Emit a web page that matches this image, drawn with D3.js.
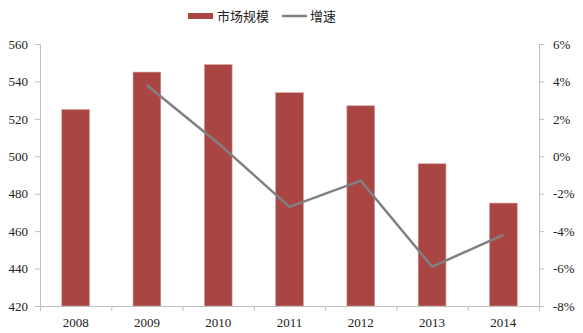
<!DOCTYPE html>
<html>
<head>
<meta charset="utf-8">
<script src="https://d3js.org/d3.v7.min.js"></script>
<style>
  body { margin: 0; background: #fff; }
</style>
</head>
<body>
<div id="vis"></div>
<script>
const years = ["2008", "2009", "2010", "2011", "2012", "2013", "2014"];
const marketSize = [525, 545, 549, 534, 527, 496, 475];
const growth = [null, 3.8, 0.7, -2.7, -1.3, -5.9, -4.2];
const leftTicks = [420, 440, 460, 480, 500, 520, 540, 560];
const rightTicks = [-8, -6, -4, -2, 0, 2, 4, 6];

const width = 583, height = 333;
const margin = { top: 44, right: 44, bottom: 27, left: 40 };
const axisColor = "#bfbfbf";
const serif = "'Liberation Serif', 'DejaVu Serif', serif";

const svg = d3.select("#vis").append("svg")
  .attr("width", width)
  .attr("height", height);

const x = d3.scaleBand()
  .domain(years)
  .range([margin.left, width - margin.right])
  .paddingInner(0.61)
  .paddingOuter(0.305);

const xAxisScale = d3.scaleLinear().domain([0, years.length]).range([margin.left, width - margin.right]);

const yLeft = d3.scaleLinear().domain([420, 560]).range([height - margin.bottom, margin.top]);
const yRight = d3.scaleLinear().domain([-8, 6]).range([height - margin.bottom, margin.top]);

// bars
svg.selectAll(".bar")
  .data(years.map((y, i) => ({ year: y, v: marketSize[i] })))
  .enter().append("rect")
  .attr("x", d => x(d.year))
  .attr("y", d => yLeft(d.v))
  .attr("width", x.bandwidth())
  .attr("height", d => yLeft(420) - yLeft(d.v))
  .attr("fill", "#a94644")
  .attr("stroke", "#d9a09e")
  .attr("stroke-width", 0.6);

// left axis
const leftAxis = svg.append("g")
  .attr("transform", `translate(${margin.left},0)`)
  .call(d3.axisLeft(yLeft).tickValues(leftTicks).tickSize(5).tickSizeOuter(0).tickPadding(7));

// right axis
const rightAxis = svg.append("g")
  .attr("transform", `translate(${width - margin.right},0)`)
  .call(d3.axisRight(yRight).tickValues(rightTicks).tickSize(5).tickSizeOuter(0).tickPadding(9)
    .tickFormat(d => d + "%"));

// bottom axis: ticks between categories
const bottomAxis = svg.append("g")
  .attr("transform", `translate(0,${height - margin.bottom})`)
  .call(d3.axisBottom(xAxisScale).tickValues(d3.range(0, years.length + 1)).tickSize(5).tickSizeOuter(0).tickFormat(""));

svg.append("g")
  .selectAll("text")
  .data(years)
  .enter().append("text")
  .attr("x", d => x(d) + x.bandwidth() / 2)
  .attr("y", height - margin.bottom + 21)
  .attr("text-anchor", "middle")
  .attr("font-family", serif)
  .attr("font-size", 13)
  .attr("fill", "#222")
  .text(d => d);

[leftAxis, rightAxis, bottomAxis].forEach(g => {
  g.selectAll("path, line").attr("stroke", axisColor);
  g.selectAll("text").attr("font-family", serif).attr("font-size", 13).attr("fill", "#222");
});

// growth line
const line = d3.line()
  .defined(d => d.v !== null)
  .x(d => x(d.year) + x.bandwidth() / 2)
  .y(d => yRight(d.v));

svg.append("path")
  .datum(years.map((y, i) => ({ year: y, v: growth[i] })))
  .attr("d", line)
  .attr("fill", "none")
  .attr("stroke", "#808080")
  .attr("stroke-width", 2.5);

// legend
const legend = svg.append("g").attr("font-family", "'Noto Sans CJK SC', sans-serif").attr("font-size", 13).attr("fill", "#222");
legend.append("rect").attr("x", 188).attr("y", 13).attr("width", 25).attr("height", 6).attr("fill", "#a94644");
legend.append("text").attr("x", 217).attr("y", 21).text("市场规模");
legend.append("line").attr("x1", 282).attr("x2", 307).attr("y1", 16).attr("y2", 16)
  .attr("stroke", "#808080").attr("stroke-width", 2.5);
legend.append("text").attr("x", 310).attr("y", 21).text("增速");
</script>
</body>
</html>
